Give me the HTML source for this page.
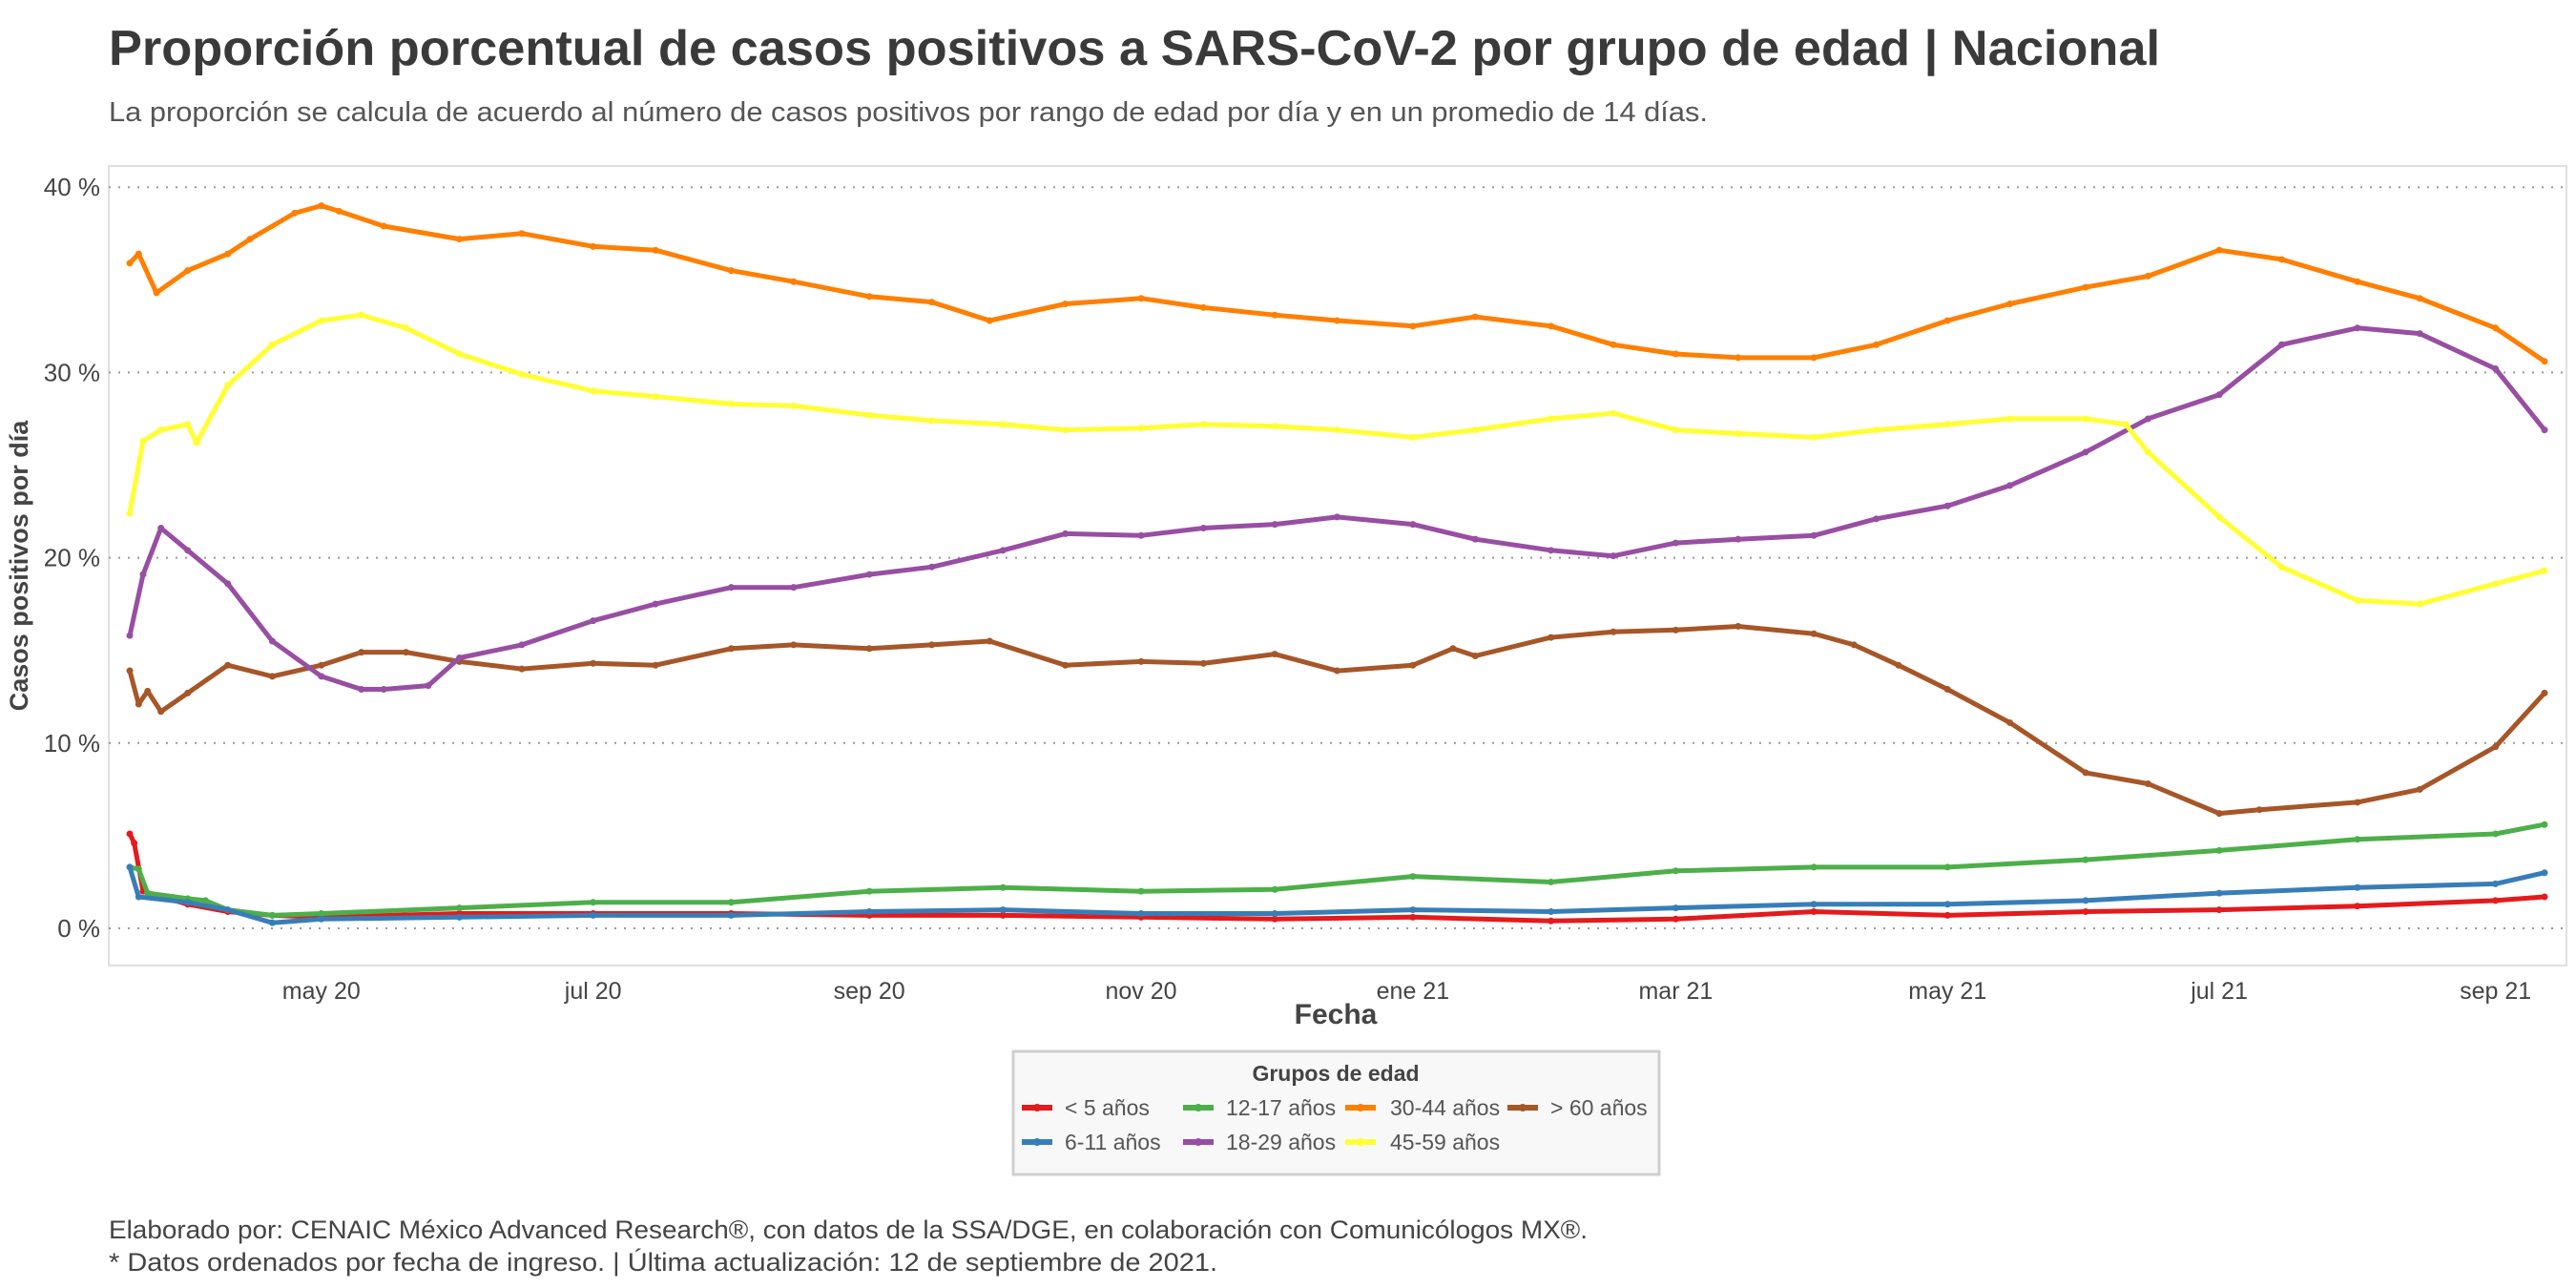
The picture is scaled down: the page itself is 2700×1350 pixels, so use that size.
<!DOCTYPE html>
<html><head><meta charset="utf-8"><style>
html,body{margin:0;padding:0;background:#fff;}
svg{display:block;font-family:"Liberation Sans",sans-serif;}
</style></head><body>
<svg id="chart" width="2700" height="1350" viewBox="0 0 2700 1350" xmlns="http://www.w3.org/2000/svg">
<text x="114" y="68" font-size="52" font-weight="bold" fill="#3a3a3a" textLength="2150" lengthAdjust="spacingAndGlyphs">Proporción porcentual de casos positivos a SARS-CoV-2 por grupo de edad | Nacional</text>
<text x="114" y="127" font-size="29" fill="#555" textLength="1676" lengthAdjust="spacingAndGlyphs">La proporción se calcula de acuerdo al número de casos positivos por rango de edad por día y en un promedio de 14 días.</text>
<rect x="114" y="174" width="2576" height="838" fill="#fff" stroke="#e0e0e0" stroke-width="2"/>
<g id="grid"></g>
<g id="yticks"></g>
<g id="xticks"></g>
<g id="series"></g>
<text transform="translate(29,593) rotate(-90)" text-anchor="middle" font-size="27" font-weight="bold" fill="#444">Casos positivos por día</text>
<text x="1400" y="1073" text-anchor="middle" font-size="30" font-weight="bold" fill="#444">Fecha</text>
<g>
<rect x="1062" y="1102" width="677" height="129" fill="#f8f8f8" stroke="#cfcfcf" stroke-width="3"/>
<text x="1400" y="1133" text-anchor="middle" font-size="23" font-weight="bold" fill="#444">Grupos de edad</text>
<g id="legend-entries"></g>
</g>
<text x="114" y="1298" font-size="27" fill="#444" textLength="1550" lengthAdjust="spacingAndGlyphs">Elaborado por: CENAIC México Advanced Research®, con datos de la SSA/DGE, en colaboración con Comunicólogos MX®.</text>
<text x="114" y="1332" font-size="27" fill="#444" textLength="1162" lengthAdjust="spacingAndGlyphs">* Datos ordenados por fecha de ingreso. | Última actualización: 12 de septiembre de 2021.</text>
</svg>
<script>
const yTicks = [0, 10, 20, 30, 40];
const xTickDates = ["2020-05-01","2020-07-01","2020-09-01","2020-11-01","2021-01-01","2021-03-01","2021-05-01","2021-07-01","2021-09-01"];
const xTickLabels = ["may 20","jul 20","sep 20","nov 20","ene 21","mar 21","may 21","jul 21","sep 21"];
const seriesNames = ["< 5 años","6-11 años","12-17 años","18-29 años","30-44 años","45-59 años","> 60 años"];

const datesOrange = ["2020-03-19","2020-03-21","2020-03-25","2020-04-01","2020-04-10","2020-04-15","2020-04-25","2020-05-01","2020-05-05","2020-05-15","2020-06-01","2020-06-15","2020-07-01","2020-07-15","2020-08-01","2020-08-15","2020-09-01","2020-09-15","2020-09-28","2020-10-15","2020-11-01","2020-11-15","2020-12-01","2020-12-15","2021-01-01","2021-01-15","2021-02-01","2021-02-15","2021-03-01","2021-03-15","2021-04-01","2021-04-15","2021-05-01","2021-05-15","2021-06-01","2021-06-15","2021-07-01","2021-07-15","2021-08-01","2021-08-15","2021-09-01","2021-09-12"];
const valuesOrange = [35.9,36.4,34.3,35.5,36.4,37.2,38.6,39.0,38.7,37.9,37.2,37.5,36.8,36.6,35.5,34.9,34.1,33.8,32.8,33.7,34.0,33.5,33.1,32.8,32.5,33.0,32.5,31.5,31.0,30.8,30.8,31.5,32.8,33.7,34.6,35.2,36.6,36.1,34.9,34.0,32.4,30.6];

const datesYellow = ["2020-03-19","2020-03-22","2020-03-26","2020-04-01","2020-04-03","2020-04-10","2020-04-20","2020-05-01","2020-05-10","2020-05-20","2020-06-01","2020-06-15","2020-07-01","2020-07-15","2020-08-01","2020-08-15","2020-09-01","2020-09-15","2020-10-01","2020-10-15","2020-11-01","2020-11-15","2020-12-01","2020-12-15","2021-01-01","2021-01-15","2021-02-01","2021-02-15","2021-03-01","2021-03-15","2021-04-01","2021-04-15","2021-05-01","2021-05-15","2021-06-01","2021-06-10","2021-06-15","2021-07-01","2021-07-15","2021-08-01","2021-08-15","2021-09-01","2021-09-12"];
const valuesYellow = [22.4,26.3,26.9,27.2,26.2,29.3,31.5,32.8,33.1,32.4,31.0,29.9,29.0,28.7,28.3,28.2,27.7,27.4,27.2,26.9,27.0,27.2,27.1,26.9,26.5,26.9,27.5,27.8,26.9,26.7,26.5,26.9,27.2,27.5,27.5,27.2,25.7,22.2,19.5,17.7,17.5,18.6,19.3];

const datesPurple = ["2020-03-19","2020-03-22","2020-03-26","2020-04-01","2020-04-10","2020-04-20","2020-05-01","2020-05-10","2020-05-15","2020-05-25","2020-06-01","2020-06-15","2020-07-01","2020-07-15","2020-08-01","2020-08-15","2020-09-01","2020-09-15","2020-10-01","2020-10-15","2020-11-01","2020-11-15","2020-12-01","2020-12-15","2021-01-01","2021-01-15","2021-02-01","2021-02-15","2021-03-01","2021-03-15","2021-04-01","2021-04-15","2021-05-01","2021-05-15","2021-06-01","2021-06-15","2021-07-01","2021-07-15","2021-08-01","2021-08-15","2021-09-01","2021-09-12"];
const valuesPurple = [15.8,19.1,21.6,20.4,18.6,15.5,13.6,12.9,12.9,13.1,14.6,15.3,16.6,17.5,18.4,18.4,19.1,19.5,20.4,21.3,21.2,21.6,21.8,22.2,21.8,21.0,20.4,20.1,20.8,21.0,21.2,22.1,22.8,23.9,25.7,27.5,28.8,31.5,32.4,32.1,30.2,26.9];

const datesBrown = ["2020-03-19","2020-03-21","2020-03-23","2020-03-26","2020-04-01","2020-04-10","2020-04-20","2020-05-01","2020-05-10","2020-05-20","2020-06-01","2020-06-15","2020-07-01","2020-07-15","2020-08-01","2020-08-15","2020-09-01","2020-09-15","2020-09-28","2020-10-15","2020-11-01","2020-11-15","2020-12-01","2020-12-15","2021-01-01","2021-01-10","2021-01-15","2021-02-01","2021-02-15","2021-03-01","2021-03-15","2021-04-01","2021-04-10","2021-04-20","2021-05-01","2021-05-15","2021-06-01","2021-06-15","2021-07-01","2021-07-10","2021-08-01","2021-08-15","2021-09-01","2021-09-12"];
const valuesBrown = [13.9,12.1,12.8,11.7,12.7,14.2,13.6,14.2,14.9,14.9,14.4,14.0,14.3,14.2,15.1,15.3,15.1,15.3,15.5,14.2,14.4,14.3,14.8,13.9,14.2,15.1,14.7,15.7,16.0,16.1,16.3,15.9,15.3,14.2,12.9,11.1,8.4,7.8,6.2,6.4,6.8,7.5,9.8,12.7];

const datesGreen = ["2020-03-19","2020-03-21","2020-03-23","2020-04-01","2020-04-05","2020-04-10","2020-04-20","2020-05-01","2020-06-01","2020-07-01","2020-08-01","2020-09-01","2020-10-01","2020-11-01","2020-12-01","2021-01-01","2021-02-01","2021-03-01","2021-04-01","2021-05-01","2021-06-01","2021-07-01","2021-08-01","2021-09-01","2021-09-12"];
const valuesGreen = [3.3,3.2,1.9,1.6,1.5,1.0,0.7,0.8,1.1,1.4,1.4,2.0,2.2,2.0,2.1,2.8,2.5,3.1,3.3,3.3,3.7,4.2,4.8,5.1,5.6];

const datesBlue = ["2020-03-19","2020-03-21","2020-04-01","2020-04-10","2020-04-20","2020-05-01","2020-06-01","2020-07-01","2020-08-01","2020-09-01","2020-10-01","2020-11-01","2020-12-01","2021-01-01","2021-02-01","2021-03-01","2021-04-01","2021-05-01","2021-06-01","2021-07-01","2021-08-01","2021-09-01","2021-09-12"];
const valuesBlue = [3.3,1.7,1.4,1.0,0.3,0.5,0.6,0.7,0.7,0.9,1.0,0.8,0.8,1.0,0.9,1.1,1.3,1.3,1.5,1.9,2.2,2.4,3.0];

const datesRed = ["2020-03-19","2020-03-20","2020-03-22","2020-04-01","2020-04-10","2020-04-20","2020-05-01","2020-06-01","2020-07-01","2020-08-01","2020-09-01","2020-10-01","2020-11-01","2020-12-01","2021-01-01","2021-02-01","2021-03-01","2021-04-01","2021-05-01","2021-06-01","2021-07-01","2021-08-01","2021-09-01","2021-09-12"];
const valuesRed = [5.1,4.6,2.0,1.3,0.9,0.7,0.6,0.8,0.8,0.8,0.7,0.7,0.6,0.5,0.6,0.4,0.5,0.9,0.7,0.9,1.0,1.2,1.5,1.7];

const NS = "http://www.w3.org/2000/svg";
const t0 = Date.UTC(2020,2,19), t1 = Date.UTC(2021,8,12);
function xScale(d){ const p=d.split("-"); const t=Date.UTC(+p[0],+p[1]-1,+p[2]); return 136 + (t-t0)/(t1-t0)*(2667-136); }
function yScale(v){ return 973 - v*19.42; }
function mk(tag, attrs, parent){ const e=document.createElementNS(NS,tag); for(const k in attrs) e.setAttribute(k,attrs[k]); parent.appendChild(e); return e; }

const grid=document.getElementById("grid"), yt=document.getElementById("yticks"), xt=document.getElementById("xticks");
yTicks.forEach(v=>{
  const l=mk("line",{x1:114,x2:2690,y1:yScale(v),y2:yScale(v),stroke:"#999","stroke-width":2,"stroke-dasharray":"2,8"},grid);
  
  
  const t=mk("text",{x:105,y:yScale(v)+9,"text-anchor":"end","font-size":26,fill:"#444"},yt);
  
  
  t.textContent=v+" %";
});
xTickDates.forEach((d,i)=>{
  const t=mk("text",{x:xScale(d),y:1047,"text-anchor":"middle","font-size":25,fill:"#444"},xt);
  
  
  t.textContent=xTickLabels[i];
});

const seriesList=[
  {name:seriesNames[0],dates:datesRed,vals:valuesRed,color:"#e41a1c",key:"under-5"},
  {name:seriesNames[2],dates:datesGreen,vals:valuesGreen,color:"#4daf4a",key:"12-17"},
  {name:seriesNames[1],dates:datesBlue,vals:valuesBlue,color:"#377eb8",key:"6-11"},
  {name:seriesNames[6],dates:datesBrown,vals:valuesBrown,color:"#a65628",key:"over-60"},
  {name:seriesNames[3],dates:datesPurple,vals:valuesPurple,color:"#984ea3",key:"18-29"},
  {name:seriesNames[5],dates:datesYellow,vals:valuesYellow,color:"#ffff33",key:"45-59"},
  {name:seriesNames[4],dates:datesOrange,vals:valuesOrange,color:"#ff7f00",key:"30-44"}
];
const sg=document.getElementById("series");
seriesList.forEach(s=>{
  const g=mk("g",{},sg);
  
  
  const pts=s.dates.map((d,i)=>xScale(d).toFixed(1)+","+yScale(s.vals[i]).toFixed(1)).join(" ");
  const pl=mk("polyline",{points:pts,fill:"none",stroke:s.color,"stroke-width":5,"stroke-linejoin":"round"},g);
  
  
  s.dates.forEach((d,i)=>{
    const c=mk("circle",{cx:xScale(d),cy:yScale(s.vals[i]),r:3.5,fill:s.color},g);
    
    
  });
});

const legendItems=[
  {label:seriesNames[0],color:"#e41a1c",lx:1071,tx:1116,y:1169},
  {label:seriesNames[2],color:"#4daf4a",lx:1240,tx:1285,y:1169},
  {label:seriesNames[4],color:"#ff7f00",lx:1410,tx:1457,y:1169},
  {label:seriesNames[6],color:"#a65628",lx:1580,tx:1625,y:1169},
  {label:seriesNames[1],color:"#377eb8",lx:1071,tx:1116,y:1205},
  {label:seriesNames[3],color:"#984ea3",lx:1240,tx:1285,y:1205},
  {label:seriesNames[5],color:"#ffff33",lx:1410,tx:1457,y:1205}
];
const lg=document.getElementById("legend-entries");
legendItems.forEach(it=>{
  const g=mk("g",{},lg);
  
  
  mk("line",{x1:it.lx,x2:it.lx+32,y1:it.y-8,y2:it.y-8,stroke:it.color,"stroke-width":6},g);
  mk("circle",{cx:it.lx+16,cy:it.y-8,r:4,fill:it.color},g);
  const t=mk("text",{x:it.tx,y:it.y,"font-size":23,fill:"#555"},g);
  t.textContent=it.label;
});
</script>
</body></html>
